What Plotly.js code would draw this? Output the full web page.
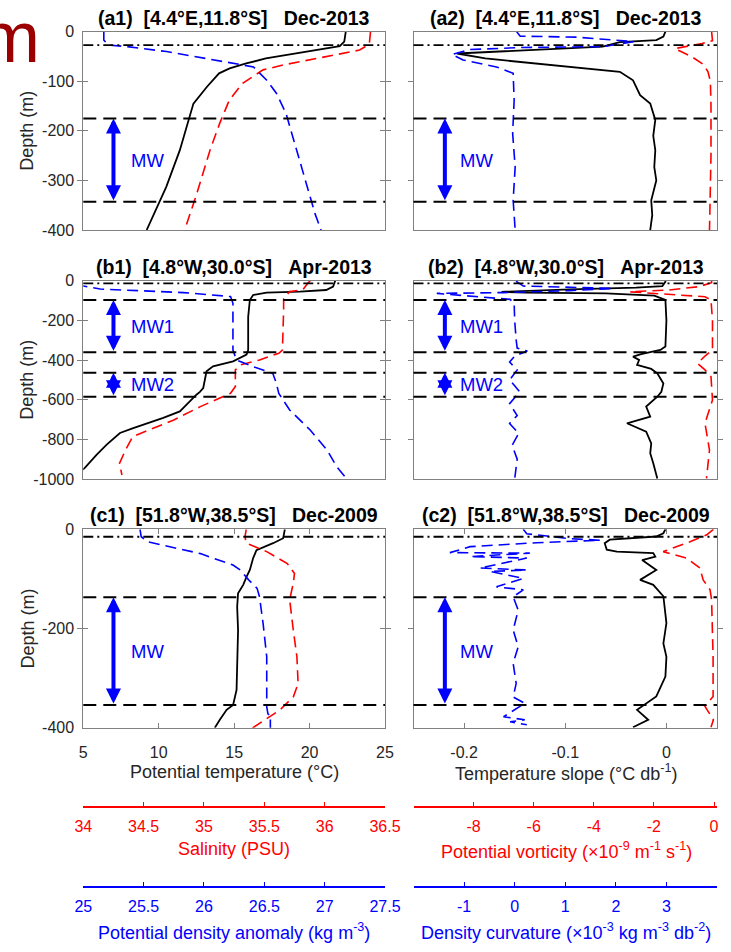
<!DOCTYPE html>
<html>
<head>
<meta charset="utf-8">
<script src="https://cdn.plot.ly/plotly-3.0.1.min.js"></script>
<style>html,body{margin:0;padding:0;background:#fff;}#chart{width:731px;height:952px;}</style>
</head>
<body>
<div id="chart"></div>
<script>
// ---------------- DATA (depth in m, positive downward) ----------------
// Row a : [4.4°E,11.8°S] Dec-2013
const a1_T_depth = [0,20,29,43,54,64,74,84,111,145,178,239,313,347,400];
const a1_T       = [22.4,22.3,22.0,19.3,17.1,15.8,14.7,14.0,13.2,12.3,12.0,11.4,10.5,10.0,9.2];
const a1_S_depth = [0,25,37,54,67,77,104,138,185,239,327,400];
const a1_S       = [36.38,36.37,36.29,35.93,35.66,35.49,35.32,35.21,35.13,35.05,34.94,34.84];
const a1_D_depth = [0,17,27,30,40,57,71,98,124,165,239,306,367,400];
const a1_D       = [25.17,25.17,25.21,25.36,25.69,26.10,26.41,26.52,26.60,26.68,26.77,26.85,26.92,26.97];
const a2_slope_depth = [0,10,17,21,30,36,40,44,54,64,74,81,98,114,128,145,178,210,239,273,300,340,370,400];
const a2_slope       = [-0.001,-0.003,-0.010,-0.046,-0.063,-0.129,-0.179,-0.207,-0.179,-0.129,-0.079,-0.046,-0.033,-0.029,-0.026,-0.016,-0.011,-0.013,-0.011,-0.012,-0.010,-0.015,-0.014,-0.016];
const a2_PV_depth = [0,18,24,30,34,40,50,66,81,100,150,250,350,400];
const a2_PV       = [-0.08,-0.05,-0.4,-1.0,-1.3,-1.1,-0.75,-0.35,-0.2,-0.12,-0.1,-0.1,-0.12,-0.15];
const a2_curv_depth = [0,9,11,20,30,32,36,46,57,71,84,138,205,273,340,400];
const a2_curv       = [0.04,0.11,1.23,2.35,1.75,0.11,-0.88,-1.24,-1.02,-0.36,-0.03,-0.01,-0.04,0.01,-0.03,0.01];
const a_mld = 27;
const a_bounds = [175,343];
const a_mw = [{name:'MW', top:175, bottom:343}];

// Row b : [4.8°W,30.0°S] Apr-2013
const b1_T_depth = [0,5,30,47,55,60,72,97,182,350,373,407,432,457,541,561,575,659,692,743,768,827,877,944,953];
const b1_T       = [21.7,21.67,21.56,21.1,19.35,17.15,16.26,16.04,15.93,15.93,15.82,14.93,13.6,13.17,12.95,12.73,12.5,11.4,10.3,8.31,7.43,6.55,5.89,5.1,4.95];
const b1_S_depth = [0,13,45,55,92,150,350,366,400,425,450,534,568,635,702,744,786,853,921,980];
const b1_S       = [35.88,35.86,35.82,35.71,35.66,35.66,35.65,35.62,35.46,35.30,35.26,35.26,35.22,34.97,34.75,34.58,34.41,34.35,34.30,34.32];
const b1_D_depth = [10,27,42,50,60,80,114,350,400,434,467,518,568,652,753,854,938,997];
const b1_D       = [24.95,25.0,25.14,25.41,25.83,26.22,26.24,26.24,26.27,26.41,26.57,26.60,26.62,26.71,26.88,27.02,27.10,27.18];
const b2_slope_depth = [0,5,27,35,44,52,56,60,64,75,97,200,332,349,370,383,400,425,445,467,518,560,585,635,686,719,761,820,870,921,997];
const b2_slope       = [-0.001,-0.001,-0.004,-0.03,-0.095,-0.15,-0.163,-0.14,-0.06,-0.012,-0.001,0.0,-0.001,-0.006,-0.025,-0.033,-0.027,-0.029,-0.015,-0.009,-0.003,-0.005,-0.009,-0.02,-0.016,-0.039,-0.02,-0.015,-0.016,-0.013,-0.009];
const b2_PV_depth = [0,10,30,47,56,64,81,97,200,349,380,417,450,484,602,719,854,997];
const b2_PV       = [-0.08,-0.08,-0.5,-1.5,-2.8,-2.0,-0.3,-0.1,-0.05,-0.05,-0.3,-0.55,-0.3,-0.1,-0.05,-0.3,-0.15,-0.25];
const b2_curv_depth = [0,5,27,34,39,50,60,64,76,94,114,200,300,340,355,380,410,450,500,560,620,680,720,770,830,900,1000];
const b2_curv       = [0.04,0.04,0.17,1.09,1.95,1.09,-0.22,-1.54,-0.88,-0.09,-0.01,0.0,0.03,0.05,0.25,0.0,-0.1,0.05,-0.1,0.1,-0.1,0.05,-0.1,0.08,-0.05,0.05,0.0];
const b_mld = 13;
const b_bounds = [97,361,464,585];
const b_mw = [{name:'MW1', top:97, bottom:361},{name:'MW2', top:464, bottom:585}];

// Row c : [51.8°W,38.5°S] Dec-2009
const c1_T_depth = [0,18,28,42,58,82,96,112,129,156,203,257,324,354,364,384,400];
const c1_T       = [18.36,18.25,17.58,16.48,16.26,16.04,15.82,15.6,15.26,15.2,15.26,15.2,15.16,14.93,14.5,14.05,13.72];
const c1_S_depth = [0,15,28,45,69,89,109,142,203,257,311,338,364,391,401];
const c1_S       = [35.35,35.34,35.35,35.52,35.69,35.75,35.74,35.71,35.74,35.77,35.78,35.74,35.63,35.46,35.40];
const c1_D_depth = [0,15,25,49,72,82,102,119,136,190,257,324,358,372,378,385,401];
const c1_D       = [25.47,25.48,25.53,25.97,26.24,26.30,26.37,26.44,26.46,26.49,26.52,26.52,26.52,26.53,26.56,26.55,26.55];
const c2_slope_depth = [0,8,14.5,21,28,41,45,48,55,62,82,102,112,135,189,230,257,297,337,364,384,399];
const c2_slope       = [-0.001,-0.003,-0.010,-0.056,-0.061,-0.059,-0.049,-0.013,-0.011,-0.024,-0.010,-0.026,-0.013,-0.003,0.0,-0.003,0.0,-0.001,-0.010,-0.029,-0.018,-0.033];
const c2_PV_depth = [0,11,25,45,58,78,102,122,142,257,337,357,384,399];
const c2_PV       = [-0.02,-0.24,-0.8,-1.69,-0.91,-0.47,-0.36,-0.13,-0.08,-0.03,-0.03,-0.3,-0.02,-0.1];
const c2_curv_depth = [0,9,19,22,27,35,47,48,55,58,78,82,85,99,116,122,136,163,203,237,270,311,338,351,378,384,388,394];
const c2_curv       = [0.17,0.24,1.09,1.69,0.44,-0.88,-1.28,0.30,-0.88,0.24,-0.69,0.24,-0.49,0.17,-0.36,0.17,-0.03,0.07,-0.03,0.07,-0.03,0.03,-0.03,0.2,-0.22,0.2,-0.09,0.24];
const c_mld = 15;
const c_bounds = [137,354];
const c_mw = [{name:'MW', top:137, bottom:354}];

// Panel titles and tick labels
const titles = [
  ['(a1)','[4.4°E,11.8°S]','Dec-2013','(a2)'],
  ['(b1)','[4.8°W,30.0°S]','Apr-2013','(b2)'],
  ['(c1)','[51.8°W,38.5°S]','Dec-2009','(c2)']
];
const tempTicks = [5,10,15,20,25];
const slopeTicks = [-0.2,-0.1,0];
const salTicks = [34,34.5,35,35.5,36,36.5];
const pvTicks = [-8,-6,-4,-2,0];
const densTicks = [25,25.5,26,26.5,27,27.5];
const curvTicks = [-1,0,1,2,3];
const depthTicksA = [0,-100,-200,-300,-400];
const depthTicksB = [0,-200,-400,-600,-800,-1000];
const depthTicksC = [0,-200,-400];

// ---------------- LAYOUT HELPERS ----------------
const W = 731, H = 952;
const X = px => px / W;
const Y = py => 1 - py / H;
const FONT = 'Liberation Sans, Arial, Helvetica, sans-serif';
const RED = '#ff0000', BLUE = '#0000ff', AXC = '#808080', TXT = '#262626';
const xLeft = [X(83.3), X(385)];
const xRight = [X(413.5), X(717)];
const rowTop = [31.7, 280.7, 529.3];
const rowBot = [230, 479, 727.7];
const yDom = rowTop.map((t,i) => [Y(rowBot[i]), Y(t)]);
const lab = v => String(v);

const traces = [];
function addLine(xv, dv, xa, ya, color, dash, width) {
  traces.push({type:'scatter', mode:'lines', x:xv, y:dv.map(d => -d), xaxis:xa, yaxis:ya,
    line:{color:color, width:width, dash:dash}, hoverinfo:'skip', showlegend:false});
}
const DASHC = '11px,6px';
const rows = [
  {ya:'y',  T:[a1_T,a1_T_depth], S:[a1_S,a1_S_depth], D:[a1_D,a1_D_depth], sl:[a2_slope,a2_slope_depth], pv:[a2_PV,a2_PV_depth], cv:[a2_curv,a2_curv_depth], mld:a_mld, bounds:a_bounds, mw:a_mw},
  {ya:'y2', T:[b1_T,b1_T_depth], S:[b1_S,b1_S_depth], D:[b1_D,b1_D_depth], sl:[b2_slope,b2_slope_depth], pv:[b2_PV,b2_PV_depth], cv:[b2_curv,b2_curv_depth], mld:b_mld, bounds:b_bounds, mw:b_mw},
  {ya:'y3', T:[c1_T,c1_T_depth], S:[c1_S,c1_S_depth], D:[c1_D,c1_D_depth], sl:[c2_slope,c2_slope_depth], pv:[c2_PV,c2_PV_depth], cv:[c2_curv,c2_curv_depth], mld:c_mld, bounds:c_bounds, mw:c_mw}
];
const shapes = [], annotations = [];
rows.forEach((r, i) => {
  addLine(r.T[0], r.T[1], 'x', r.ya, '#000', 'solid', 1.8);
  addLine(r.S[0], r.S[1], 'x3', r.ya, RED, DASHC, 1.6);
  addLine(r.D[0], r.D[1], 'x4', r.ya, BLUE, DASHC, 1.6);
  addLine(r.sl[0], r.sl[1], 'x2', r.ya, '#000', 'solid', 1.8);
  addLine(r.pv[0], r.pv[1], 'x5', r.ya, RED, DASHC, 1.6);
  addLine(r.cv[0], r.cv[1], 'x6', r.ya, BLUE, DASHC, 1.6);
  ['x','x2'].forEach(xa => {
    shapes.push({type:'line', xref:xa+' domain', yref:r.ya, x0:0, x1:1, y0:-r.mld, y1:-r.mld,
      line:{color:'#000', width:1.8, dash:'10px,4px,2px,4px'}});
    r.bounds.forEach(b => shapes.push({type:'line', xref:xa+' domain', yref:r.ya, x0:0, x1:1, y0:-b, y1:-b,
      line:{color:'#000', width:2, dash:'13px,7px'}}));
  });
  const arrowX = {x:7, x2:-0.219};
  const labelX = {x:8, x2:-0.206};
  r.mw.forEach(m => {
    ['x','x2'].forEach(xa => {
      annotations.push({xref:xa, yref:r.ya, axref:xa, ayref:r.ya, x:arrowX[xa], y:-m.top, ax:arrowX[xa], ay:-m.bottom,
        text:'', showarrow:true, arrowside:'end+start', arrowhead:2, startarrowhead:2, arrowsize:0.75, startarrowsize:0.75,
        arrowwidth:4, arrowcolor:BLUE, standoff:0, startstandoff:0});
      annotations.push({xref:xa, yref:r.ya, x:labelX[xa], y:-(m.top+m.bottom)/2, xanchor:'left', yanchor:'middle',
        text:m.name, showarrow:false, font:{family:FONT, size:18.5, color:BLUE}});
    });
  });
  const t = titles[i];
  const sp2 = '\u00a0\u00a0', sp3 = '\u00a0\u00a0\u00a0';
  annotations.push({xref:'paper', yref:'paper', x:X(234), y:Y(rowTop[i]-14), xanchor:'center', yanchor:'middle', showarrow:false,
    text:'<b>'+t[0]+sp2+t[1]+sp3+t[2]+'</b>', font:{family:FONT, size:19.5, color:'#000'}});
  annotations.push({xref:'paper', yref:'paper', x:X(566), y:Y(rowTop[i]-14), xanchor:'center', yanchor:'middle', showarrow:false,
    text:'<b>'+t[3]+sp2+t[1]+sp3+t[2]+'</b>', font:{family:FONT, size:19.5, color:'#000'}});
  annotations.push({xref:'paper', yref:'paper', x:X(27), y:Y((rowTop[i]+rowBot[i])/2), textangle:-90, xanchor:'center', yanchor:'middle',
    showarrow:false, text:'Depth (m)', font:{family:FONT, size:18, color:TXT}});
});

function axTitle(text, px, py, color) {
  annotations.push({xref:'paper', yref:'paper', x:X(px), y:Y(py), xanchor:'center', yanchor:'middle', showarrow:false,
    text:text, font:{family:FONT, size:18, color:color}});
}
axTitle('Potential temperature (°C)', 234, 772, TXT);
axTitle('Temperature slope (°C db<sup>-1</sup>)', 566, 772, TXT);
axTitle('Salinity (PSU)', 234, 849, RED);
axTitle('Potential vorticity (×10<sup>-9</sup> m<sup>-1</sup> s<sup>-1</sup>)', 566, 850, RED);
axTitle('Potential density anomaly (kg m<sup>-3</sup>)', 234, 931, BLUE);
axTitle('Density curvature (×10<sup>-3</sup> kg m<sup>-3</sup> db<sup>-2</sup>)', 566, 931, BLUE);
annotations.push({xref:'paper', yref:'paper', x:X(42), y:Y(37), xanchor:'right', yanchor:'middle', showarrow:false,
  text:'m', font:{family:FONT, size:72, color:'#9b0000'}});

const base = {showgrid:false, zeroline:false, showline:true, linecolor:AXC, linewidth:1, ticks:'inside', ticklen:5,
  tickcolor:AXC, tickfont:{family:FONT, size:16, color:TXT}, fixedrange:true};
function yax(dom, range, ticks) {
  return Object.assign({}, base, {domain:dom, range:range, anchor:'x', mirror:'allticks',
    tickvals:ticks, ticktext:ticks.map(lab), ticklabelstandoff:5});
}
function xmain(dom, range, ticks) {
  return Object.assign({}, base, {domain:dom, range:range, anchor:'y3', mirror:'all',
    tickvals:ticks, ticktext:ticks.map(lab), ticklabelstandoff:10});
}
function xfree(dom, range, ticks, over, py, color) {
  return Object.assign({}, base, {domain:dom, range:range, overlaying:over, anchor:'free', position:Y(py), side:'bottom',
    linecolor:color, linewidth:2, tickcolor:color, ticklen:4, tickfont:{family:FONT, size:16, color:color},
    tickvals:ticks, ticktext:ticks.map(lab), ticklabelstandoff:5, mirror:false});
}
const layout = {
  width:W, height:H, margin:{l:0, r:0, t:0, b:0}, paper_bgcolor:'#fff', plot_bgcolor:'rgba(0,0,0,0)',
  showlegend:false, hovermode:false, font:{family:FONT},
  xaxis: xmain(xLeft, [5,25], tempTicks),
  xaxis2: xmain(xRight, [-0.25,0.05], slopeTicks),
  xaxis3: xfree(xLeft, [34,36.5], salTicks, 'x', 807, RED),
  xaxis4: xfree(xLeft, [25,27.5], densTicks, 'x', 887, BLUE),
  xaxis5: xfree(xRight, [-10,0.1], pvTicks, 'x2', 807, RED),
  xaxis6: xfree(xRight, [-2,4], curvTicks, 'x2', 887, BLUE),
  yaxis: yax(yDom[0], [-400,0], depthTicksA),
  yaxis2: yax(yDom[1], [-1000,0], depthTicksB),
  yaxis3: yax(yDom[2], [-400,0], depthTicksC),
  shapes: shapes,
  annotations: annotations
};
Plotly.newPlot('chart', traces, layout, {staticPlot:true, displayModeBar:false});
</script>
</body>
</html>
